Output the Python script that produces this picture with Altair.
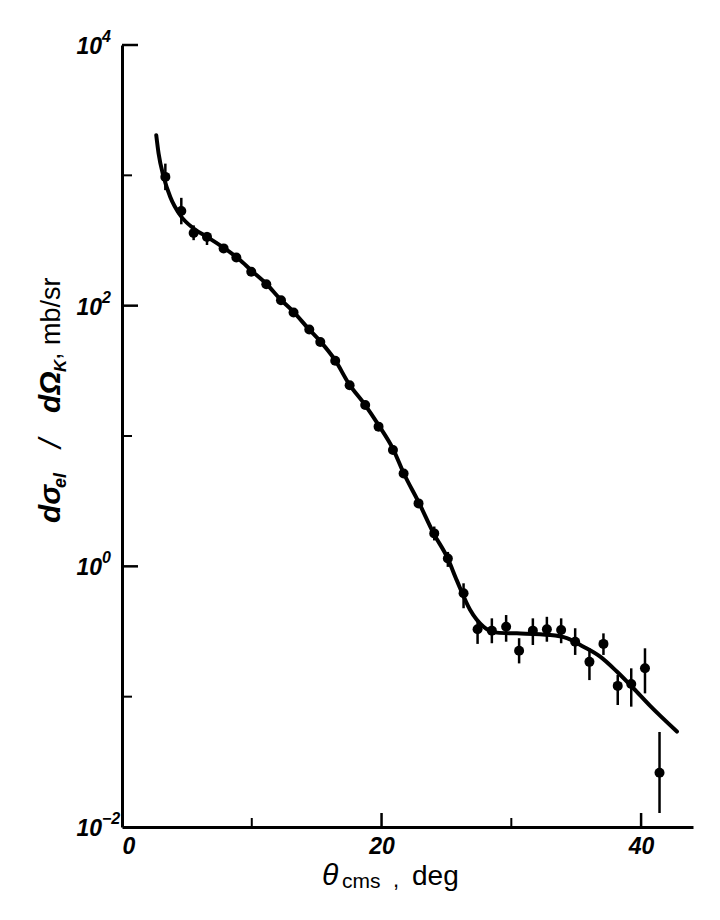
import altair as alt
import pandas as pd

# ---- measured data points (theta in deg, dsigma/dOmega in mb/sr) ----
theta = [3.34, 4.57, 5.52, 6.55, 7.83, 8.81, 9.96, 11.12, 12.25, 13.22, 14.43, 15.28,
         16.43, 17.54, 18.74, 19.77, 20.88, 21.70, 22.85, 24.06, 25.11, 26.32, 27.40,
         28.50, 29.60, 30.60, 31.66, 32.74, 33.84, 34.92, 36.02, 37.10, 38.20, 39.24,
         40.30, 41.42]
sigma = [973, 533, 361, 337, 275, 234, 182, 146, 110, 88.7, 65.6, 52.7,
         37.8, 24.5, 17.3, 11.8, 7.80, 5.16, 3.04, 1.79, 1.15, 0.621, 0.329,
         0.321, 0.344, 0.225, 0.321, 0.329, 0.325, 0.264, 0.185, 0.254, 0.121, 0.125,
         0.165, 0.0261]
sigma_hi = [1230, 672, 413, 368, 286, 243, 189, 152, 114, 92.2, 68.2, 54.8,
            39.3, 25.5, 18.0, 12.3, 8.11, 5.42, 3.22, 2.02, 1.29, 0.741, 0.387,
            0.399, 0.423, 0.281, 0.399, 0.410, 0.399, 0.335, 0.235, 0.306, 0.147, 0.165,
            0.235, 0.0536]
sigma_lo = [770, 421, 318, 292, 264, 225, 175, 140, 106, 85.2, 63.0, 50.6,
            36.3, 23.5, 16.6, 11.3, 7.49, 4.95, 2.88, 1.58, 0.99, 0.477, 0.254,
            0.257, 0.264, 0.180, 0.249, 0.264, 0.257, 0.209, 0.134, 0.209, 0.0863, 0.0838,
            0.106, 0.0128]

# ---- fitted curve ----
fit_theta = [2.64, 2.82, 3.20, 3.72, 4.49, 5.52, 6.60, 7.80, 9.00, 10.0, 11.1, 12.2,
             13.2, 14.4, 15.3, 16.4, 17.5, 18.7, 19.8, 20.9, 21.7, 22.9, 24.0, 25.1,
             25.8, 26.83, 27.86, 28.89, 30.43, 33.0, 34.28, 35.56, 36.85, 38.13, 39.41,
             40.7, 42.76]
fit_sigma = [2030, 1469, 980, 683, 494, 391, 335, 280, 228, 185, 148, 112,
             90, 66, 53, 38.5, 25, 17.5, 12, 7.9, 5.2, 3.05, 1.8, 1.15,
             0.78, 0.462, 0.344, 0.310, 0.306, 0.297, 0.281, 0.242, 0.203, 0.156, 0.116,
             0.0849, 0.054]

# ---- axis ticks and labels ----
ytick_major = [1e4, 1e2, 1.0]
ytick_minor = [1e3, 1e1, 1e-1]
xtick_major = [20, 40]
xtick_minor = [10, 30]
ylabel_vals = [1e4, 1e2, 1.0, 1e-2]
ylabel_exp = ["4", "2", "0", "\u22122"]
xlabel_vals = [0, 20, 40]

W, H = 571, 782
FONT = "Liberation Sans"

pts = pd.DataFrame({"theta": theta, "sigma": sigma, "lo": sigma_lo, "hi": sigma_hi})
fit = pd.DataFrame({"theta": fit_theta, "sigma": fit_sigma})

xs = alt.Scale(domain=[0, 44], nice=False, zero=False)
ys = alt.Scale(type="log", domain=[0.01, 10000], nice=False)

x_axis = alt.Axis(values=xlabel_vals, ticks=False, grid=False, domainColor="black",
                  domainWidth=3, labelFont=FONT, labelFontSize=23, labelFontStyle="italic",
                  labelFontWeight="bold", labelColor="black", labelPadding=8, title=None)
y_axis = alt.Axis(labels=False, ticks=False, grid=False, domainColor="black",
                  domainWidth=3, title=None)


def X(f):
    return alt.X(f, type="quantitative", scale=xs, axis=x_axis)


def Y(f):
    return alt.Y(f, type="quantitative", scale=ys, axis=y_axis)


curve = alt.Chart(fit).mark_line(color="black", strokeWidth=4, interpolate="monotone",
                                 strokeCap="round").encode(x=X("theta"), y=Y("sigma"))
bars = alt.Chart(pts).mark_rule(color="black", strokeWidth=2.5).encode(
    x=X("theta"), y=Y("lo"), y2="hi")
dots = alt.Chart(pts).mark_point(filled=True, shape="circle", size=100, color="black",
                                 opacity=1).encode(x=X("theta"), y=Y("sigma"))

ytm = alt.Chart(pd.DataFrame({"v": ytick_major})).mark_rule(color="black", strokeWidth=2.5).encode(
    y=Y("v"), x=alt.value(0), x2=alt.value(16))
ytn = alt.Chart(pd.DataFrame({"v": ytick_minor})).mark_rule(color="black", strokeWidth=2).encode(
    y=Y("v"), x=alt.value(0), x2=alt.value(10))
xtm = alt.Chart(pd.DataFrame({"v": xtick_major})).mark_rule(color="black", strokeWidth=2.5).encode(
    x=X("v"), y=alt.value(H), y2=alt.value(H - 14))
xtn = alt.Chart(pd.DataFrame({"v": xtick_minor})).mark_rule(color="black", strokeWidth=2).encode(
    x=X("v"), y=alt.value(H), y2=alt.value(H - 9))

ylab_df = pd.DataFrame({"v": ylabel_vals, "e": ylabel_exp})
ylab_base = alt.Chart(ylab_df).mark_text(align="right", baseline="middle", font=FONT, dy=2,
                                         fontSize=23, fontStyle="italic", fontWeight="bold",
                                         color="black").encode(
    y=Y("v"), x=alt.value(-20), text=alt.value("10"))
ylab_exp = alt.Chart(ylab_df).mark_text(align="left", baseline="middle", font=FONT, dy=-8,
                                        fontSize=16, fontStyle="italic", fontWeight="bold",
                                        color="black").encode(
    y=Y("v"), x=alt.value(-20), text="e:N")


def txt(s, x, y, size, style="normal", weight="normal", angle=0):
    kw = dict(align="left", baseline="alphabetic", font=FONT, fontSize=size,
              fontStyle=style, fontWeight=weight, color="black")
    if angle:
        kw["angle"] = angle
    return alt.Chart(pd.DataFrame({"t": [s]})).mark_text(**kw).encode(
        x=alt.value(x), y=alt.value(y), text="t:N")


# y-axis title pieces (rotated, reading upwards)
yt = [
    txt("d\u03c3", -62, 478, 30, "italic", "bold", 270),
    txt("el", -56, 443, 18, "italic", "bold", 270),
    txt("/", -61, 403, 32, "italic", "normal", 270),
    txt("d\u03a9", -62, 368, 30, "italic", "bold", 270),
    txt("K", -56, 327, 17, "italic", "bold", 270),
    txt(", mb/sr", -62, 315, 27, "normal", "normal", 270),
]
# x-axis title pieces
xt = [
    txt("\u03b8", 200, 840, 30, "italic"),
    txt("cms", 220, 843, 21),
    txt(",", 271, 842, 22),
    txt("deg", 290, 840, 28),
]

chart = alt.layer(curve, bars, dots, ytm, ytn, xtm, xtn, ylab_base, ylab_exp, *yt, *xt).properties(
    width=W, height=H,
    autosize=alt.AutoSizeParams(type="none"),
    padding={"left": 114, "top": 37, "right": 19, "bottom": 85},
    background="white",
).configure_view(stroke=None)

chart.save("out.html", embed_options={"renderer": "svg", "actions": False})
